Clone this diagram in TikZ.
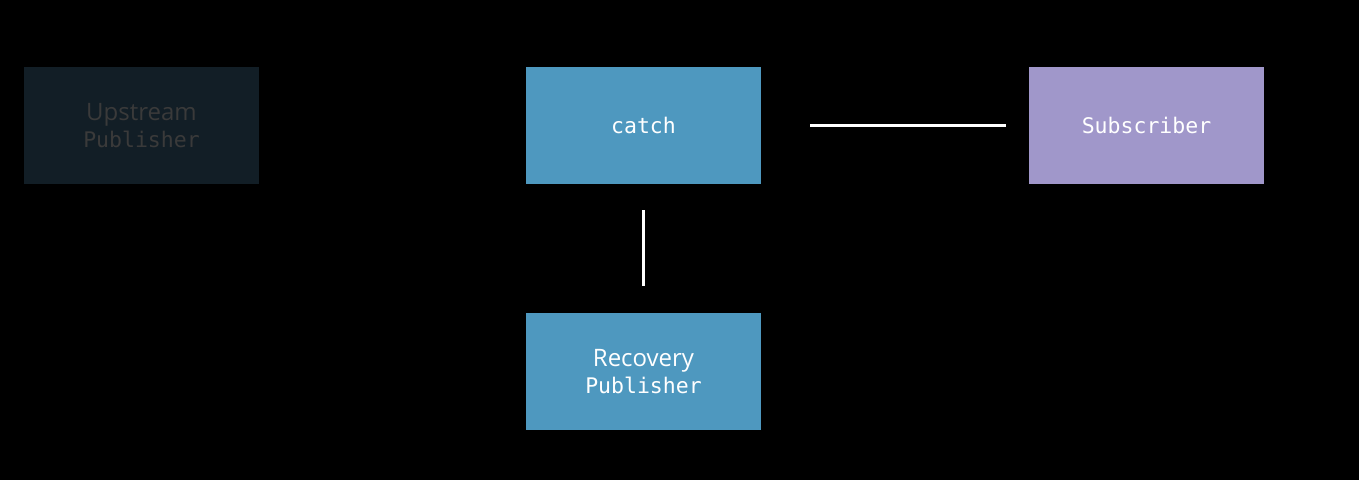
\documentclass[tikz,border=0pt]{standalone}
\usepackage{fontspec}
\setsansfont{Open Sans}
\setmonofont{DejaVu Sans Mono}
\usetikzlibrary{positioning}
\definecolor{upfill}{HTML}{121E26}
\definecolor{uptext}{HTML}{3A3A3A}
\definecolor{opblue}{HTML}{4E98BF}
\definecolor{subpurple}{HTML}{A097CA}

\begin{document}
\begin{tikzpicture}[x=1pt,y=-1pt,
  box/.style={minimum width=235pt,minimum height=117pt,inner sep=0pt,align=center,text=white},
  mono/.style={font=\ttfamily\fontsize{21.5}{27}\selectfont},
  link/.style={draw=white,line width=3pt}]
  \fill[black] (0,0) rectangle (1359,480);
  \useasboundingbox (0,0) rectangle (1359,480);
  %top row
  \node[box,fill=upfill,text=uptext,mono] (upstream) at (141.5,125.5) {{\sffamily\fontsize{24}{27}\selectfont Upstream}\\Publisher};
  \node[box,fill=opblue,mono] (catch) at (643.5,125.5) {catch};
  \node[box,fill=subpurple,mono] (subscriber) at (1146.5,125.5) {Subscriber};
  %bottom
  \node[box,fill=opblue,mono] (recovery) at (643.5,371.5) {{\sffamily\fontsize{24}{27}\selectfont Recovery}\\Publisher};
  %connectors
  \draw[link] ([xshift=49pt]catch.east) -- ([xshift=-23pt]subscriber.west);
  \draw[link] ([yshift=-26pt]catch.south) -- ([yshift=27pt]recovery.north);
\end{tikzpicture}
\end{document}
